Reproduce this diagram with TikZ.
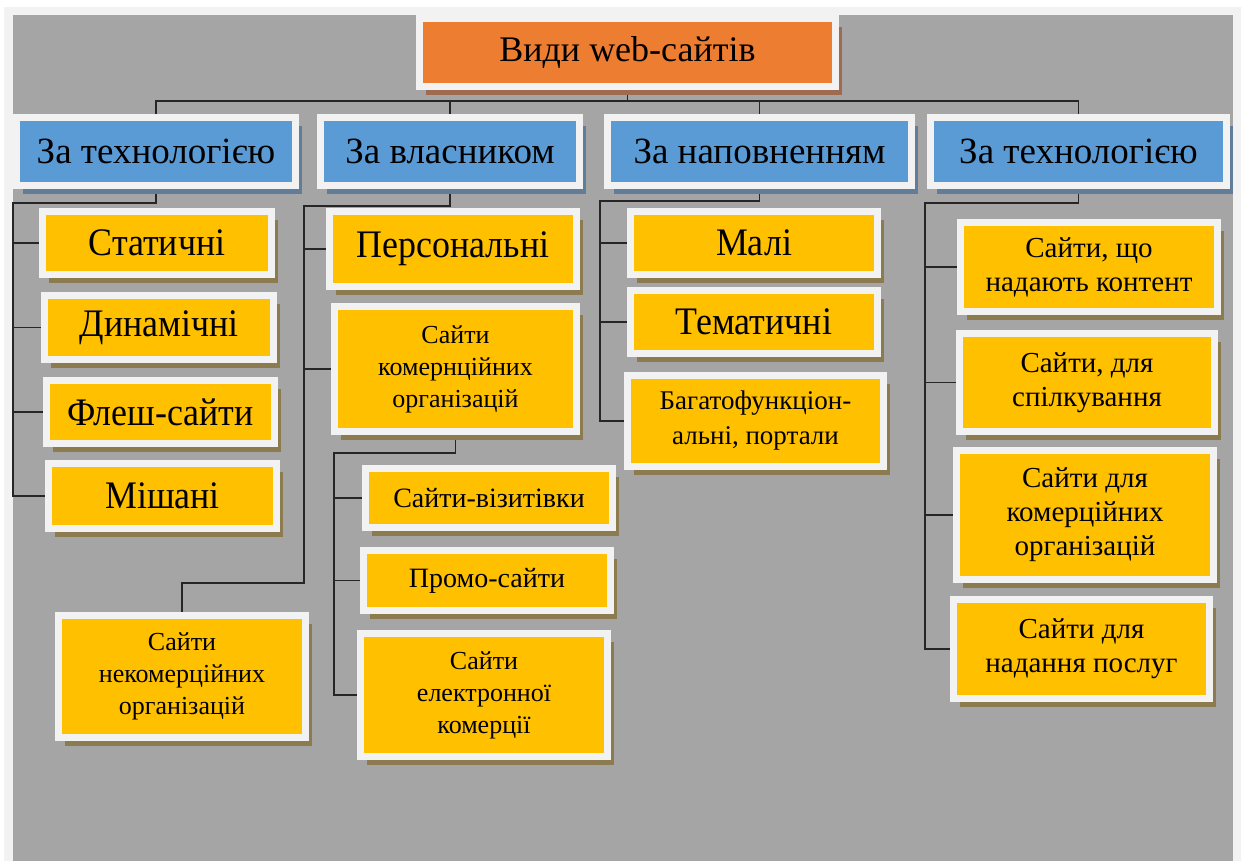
\documentclass[tikz,border=0pt]{standalone}
\usepackage{fontspec}
\setmainfont{Liberation Serif}
\newfontfamily\condfont{Liberation Serif}[FakeStretch=0.92]
\usetikzlibrary{shadows}
\definecolor{frame}{HTML}{F2F2F2}
\definecolor{bgray}{HTML}{A5A5A5}
\definecolor{orng}{HTML}{ED7D31}
\definecolor{blu}{HTML}{5B9BD5}
\definecolor{yel}{HTML}{FFC000}
\definecolor{yshad}{HTML}{8C7B4F}
\definecolor{bshad}{HTML}{627D98}
\definecolor{oshad}{HTML}{9E6B50}
\definecolor{lin}{HTML}{262626}
\pgfdeclarelayer{bglayer}
\pgfdeclarelayer{lines}
\pgfsetlayers{bglayer,lines,main}
\tikzset{
  box/.style={draw=frame, line width=7pt, inner sep=0pt, align=center, text=black},
  titlebox/.style={box, fill=orng, drop shadow={shadow xshift=6.5pt, shadow yshift=-8.5pt, fill=oshad, opacity=1},
    font=\fontsize{36}{40}\selectfont},
  catbox/.style={box, fill=blu, drop shadow={shadow xshift=6.5pt, shadow yshift=-8.5pt, fill=bshad, opacity=1},
    font=\fontsize{37}{40}\selectfont},
  ybox/.style={box, fill=yel, drop shadow={shadow xshift=6.5pt, shadow yshift=-8.5pt, fill=yshad, opacity=1}},
  big/.style={font=\condfont\fontsize{39}{42}\selectfont},
  small/.style={font=\fontsize{26}{32}\selectfont},
  mid/.style={font=\fontsize{28}{35}\selectfont},
  rcol/.style={font=\fontsize{29}{34}\selectfont},
  conn/.style={draw=lin, line width=1.3pt},
}
\begin{document}
\begin{tikzpicture}[x=1pt,y=-1pt]
\useasboundingbox (0,0) rectangle (1241,861);
\begin{pgfonlayer}{bglayer}
\fill[white] (0,0) rectangle (1241,861);
\fill[frame] (4,7) rectangle (1241,861);
\fill[bgray] (13,15) rectangle (1233,861);
\end{pgfonlayer}

% title and categories
\node[titlebox, minimum width=416pt, minimum height=68pt] (title) at (627.5,52.5) {Види web-сайтів};
\node[catbox, minimum width=279pt, minimum height=68pt] (cat1) at (156,151.5) {За технологією};
\node[catbox, minimum width=259pt, minimum height=68pt] (cat2) at (450,151.5) {За власником};
\node[catbox, minimum width=304pt, minimum height=68pt] (cat3) at (759.5,151.5) {За наповненням};
\node[catbox, minimum width=296pt, minimum height=68pt] (cat4) at (1078.5,151.5) {За технологією};

% column 1
\node[ybox, big, minimum width=229pt, minimum height=63pt] (stat) at (157,243) {Статичні};
\node[ybox, big, minimum width=229pt, minimum height=64pt] (dyn) at (159,327.5) {Динамічні};
\node[ybox, big, minimum width=228pt, minimum height=63pt] (flash) at (160.5,412) {Флеш-сайти};
\node[ybox, big, minimum width=228pt, minimum height=65pt] (mix) at (162.5,496) {Мішані};

% column 2
\node[ybox, big, minimum width=247pt, minimum height=75pt] (pers) at (453,249) {Персональні};
\node[ybox, small, minimum width=242pt, minimum height=125pt] (comm) at (455.5,369) {Сайти\\комернційних\\організацій};
\node[ybox, small, minimum width=247pt, minimum height=122pt] (noncomm) at (182,676.5) {Сайти\\некомерційних\\організацій};
\node[ybox, mid, minimum width=247pt, minimum height=59pt] (viz) at (489,498) {Сайти-візитівки};
\node[ybox, mid, minimum width=247pt, minimum height=60pt] (promo) at (487,580.5) {Промо-сайти};
\node[ybox, small, minimum width=247pt, minimum height=123pt] (ecom) at (484,695) {Сайти\\електронної\\комерції};

% column 3
\node[ybox, big, minimum width=247pt, minimum height=63pt] (smallsites) at (754,243) {Малі};
\node[ybox, big, minimum width=247pt, minimum height=63pt] (them) at (754,322) {Тематичні};
\node[ybox, font=\fontsize{27}{35}\selectfont, minimum width=256pt, minimum height=91pt] (multi) at (755.5,421) {Багатофункціон-\\альні, портали};

% column 4
\node[ybox, rcol, minimum width=257pt, minimum height=89pt] (content) at (1089,267) {Сайти, що\\надають контент};
\node[ybox, rcol, minimum width=255pt, minimum height=98pt] (talk) at (1087,382.5) {Сайти, для\\спілкування};
\node[ybox, rcol, minimum width=257pt, minimum height=129pt] (corg) at (1085,515) {Сайти для\\комерційних\\організацій};
\node[ybox, rcol, minimum width=256pt, minimum height=99pt] (serv) at (1081.5,649) {Сайти для\\надання послуг};

\begin{pgfonlayer}{lines}
% title connectors
\coordinate (hub) at (627.5,101);
\draw[conn] (title.south) -- (hub);
\draw[conn] (cat1.north) |- (hub) -| (cat4.north);
\draw[conn] (hub) -| (cat2.north);
\draw[conn] (hub) -| (cat3.north);

% column 1
\coordinate (t1) at (13,203);
\draw[conn] (cat1.south) |- (t1) -- (t1 |- mix.west) -- (mix.west);
\draw[conn] (t1 |- stat.west) -- (stat.west);
\draw[conn] (t1 |- dyn.west) -- (dyn.west);
\draw[conn] (t1 |- flash.west) -- (flash.west);

% column 2
\coordinate (t2) at (304,206);
\coordinate (t2b) at (304,583);
\draw[conn] (cat2.south) |- (t2) -- (t2b) -| (noncomm.north);
\draw[conn] (t2 |- pers.west) -- (pers.west);
\draw[conn] (t2 |- comm.west) -- (comm.west);

\coordinate (t3) at (334,453);
\draw[conn] (comm.south) |- (t3) -- (t3 |- ecom.west) -- (ecom.west);
\draw[conn] (t3 |- viz.west) -- (viz.west);
\draw[conn] (t3 |- promo.west) -- (promo.west);

% column 3
\coordinate (t4) at (600,201);
\draw[conn] (cat3.south) |- (t4) -- (t4 |- multi.west) -- (multi.west);
\draw[conn] (t4 |- smallsites.west) -- (smallsites.west);
\draw[conn] (t4 |- them.west) -- (them.west);

% column 4
\coordinate (t5) at (925,203);
\draw[conn] (cat4.south) |- (t5) -- (t5 |- serv.west) -- (serv.west);
\draw[conn] (t5 |- content.west) -- (content.west);
\draw[conn] (t5 |- talk.west) -- (talk.west);
\draw[conn] (t5 |- corg.west) -- (corg.west);
\end{pgfonlayer}
\end{tikzpicture}
\end{document}
